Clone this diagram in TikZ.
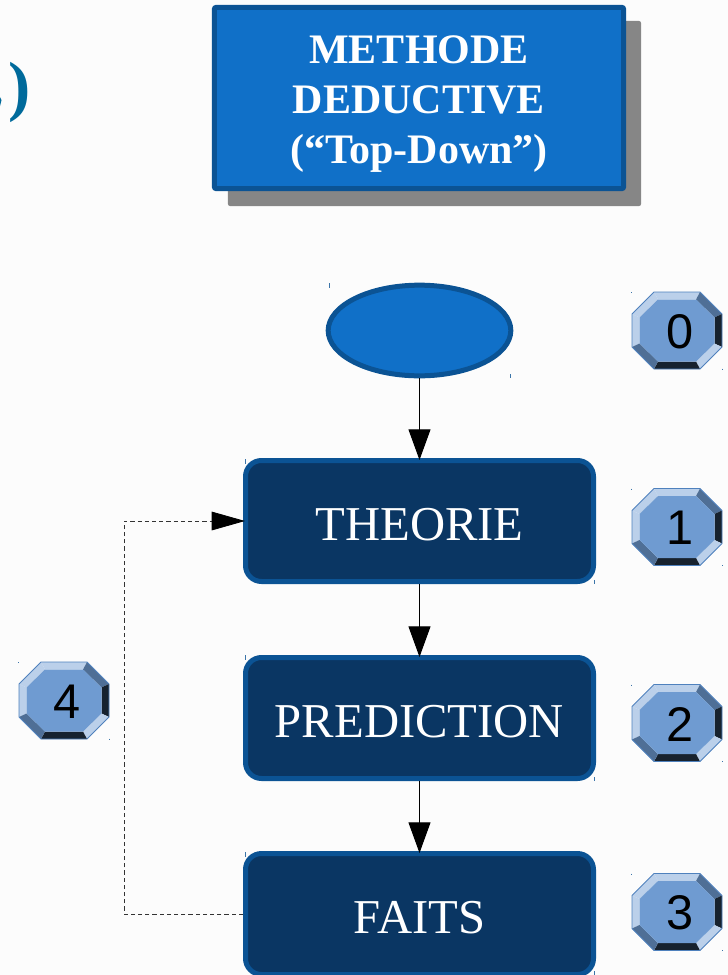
\documentclass[tikz,border=0pt]{standalone}
\usepackage{fontspec}
\setmainfont{Liberation Serif}
\setsansfont{Liberation Sans}
\usetikzlibrary{arrows.meta,shapes.geometric}
\definecolor{bgc}{HTML}{FCFCFC}
\definecolor{edgeblue}{HTML}{0B5394}
\definecolor{brightblue}{HTML}{1070C8}
\definecolor{navy}{HTML}{0A3663}
\definecolor{shadowgray}{HTML}{868686}
\definecolor{parenblue}{HTML}{006A9B}
\definecolor{facec}{HTML}{6F9BD1}
\definecolor{lightb}{HTML}{BBD0EA}
\definecolor{midb}{HTML}{4F6F96}
\definecolor{darkb}{HTML}{17222E}
\definecolor{lineb}{HTML}{4F81BD}
\tikzset{
  x=0.75pt,y=-0.75pt,
  flowbox/.style={draw=edgeblue,fill=navy,line width=3.75pt,rounded corners=12pt,
    minimum width=261pt,minimum height=90.75pt,text=white,font=\fontsize{36.5}{40}\selectfont,inner sep=0pt,text height=28.5pt,text depth=0pt},
  flowarrow/.style={draw=black,line width=0.75pt,shorten >=-1.5pt,-{Triangle[length=23pt,width=16.5pt]}},
  feedback/.style={draw=black!80,line width=0.6pt,dash pattern=on 3.2pt off 2.2pt,shorten >=-1.5pt,-{Triangle[length=25pt,width=14pt,black]}},
  handle/.style={draw=edgeblue!80,line width=0.6pt},
  digit/.style={font=\sffamily\fontsize{36.5}{40}\selectfont,text=black,inner sep=0pt}
}
\newcommand{\octabtn}[4]{%
\begin{scope}[shift={(#2,#3)}]
  \fill[lightb] (-23,-38.5)--(23,-38.5)--(19,-31)--(-19,-31)--cycle;
  \fill[lightb] (-45,-16.5)--(-23,-38.5)--(-19,-31)--(-37.5,-13)--cycle;
  \fill[lightb] (-45,-16.5)--(-37.5,-13)--(-37.5,13)--(-45,16.5)--cycle;
  \fill[midb] (23,-38.5)--(45,-16.5)--(37.5,-13)--(19,-31)--cycle;
  \fill[darkb] (45,-16.5)--(45,16.5)--(37.5,13)--(37.5,-13)--cycle;
  \fill[lightb] (45,16.5)--(23,38.5)--(19,31)--(37.5,13)--cycle;
  \fill[darkb] (23,38.5)--(-23,38.5)--(-19,31)--(19,31)--cycle;
  \fill[midb] (-23,38.5)--(-45,16.5)--(-37.5,13)--(-19,31)--cycle;
  \fill[facec] (-19,-31)--(19,-31)--(37.5,-13)--(37.5,13)--(19,31)--(-19,31)--(-37.5,13)--(-37.5,-13)--cycle;
  \draw[lineb,line width=0.6pt,line join=round] (-23,-38.5)--(23,-38.5)--(45,-16.5)--(45,16.5)--(23,38.5)--(-23,38.5)--(-45,16.5)--(-45,-16.5)--cycle;
  \node[digit] (#1) at (3,1) {#4};
  \draw[handle] (-45.5,-38.5)--(-45.5,-37.5) (45.5,38)--(45.5,39);
\end{scope}}
\begin{document}
\begin{tikzpicture}
\useasboundingbox (0,0) rectangle (728,975);
\begin{scope}
\clip (0,0) rectangle (728,975);
\fill[bgc] (0,0) rectangle (728,975);
% clipped heading fragment
\node[anchor=east,text=parenblue,inner sep=0pt,font=\fontsize{50}{56}\selectfont\bfseries] (paren) at (31,92) {)};
\fill[parenblue] (0,97) -- (1.5,100) -- (0,106) -- cycle;
% title with shadow
\node[draw=shadowgray,fill=shadowgray,line width=1pt,rounded corners=1.5pt,minimum width=309pt,minimum height=138pt,inner sep=0pt] (shadow) at (434.5,113.5) {};
\node[draw=edgeblue,fill=brightblue,line width=3.75pt,rounded corners=1.5pt,minimum width=307pt,minimum height=136pt,inner sep=0pt,
  text=white,align=center,font=\bfseries\fontsize{31.5}{37.5}\selectfont] (title) at (419,98) {\rule{0pt}{30pt}METHODE\\DEDUCTIVE\\(“Top-Down”)};
% flow
\node[ellipse,draw=edgeblue,fill=brightblue,line width=3.75pt,minimum width=137pt,minimum height=68pt,inner sep=0pt] (start) at (419.5,330.5) {};
\node[flowbox] (theorie) at (419.5,521) {THEORIE};
\node[flowbox] (prediction) at (419.5,718) {PREDICTION};
\node[flowbox] (faits) at (419.5,914) {FAITS};
\draw[flowarrow] (start) -- (theorie);
\draw[flowarrow] (theorie) -- (prediction);
\draw[flowarrow] (prediction) -- (faits);
\coordinate (feedbend) at (124,914);
\draw[feedback] (faits.west) -- (feedbend) |- (theorie.west);
% buttons
\octabtn{n0}{677}{330.5}{0}
\octabtn{n1}{677}{527}{1}
\octabtn{n2}{677}{723}{2}
\octabtn{n3}{677}{912}{3}
\octabtn{n4}{64}{700.5}{4}
% selection handles
\draw[handle] (329.5,283)--(329.5,288) (510.5,374)--(510.5,378) (245.5,459)--(245.5,464) (594,580)--(594,584) (245.5,655)--(245.5,660) (594,777)--(594,781) (245.5,852)--(245.5,857) (594,971)--(594,975);
\end{scope}
\end{tikzpicture}
\end{document}
